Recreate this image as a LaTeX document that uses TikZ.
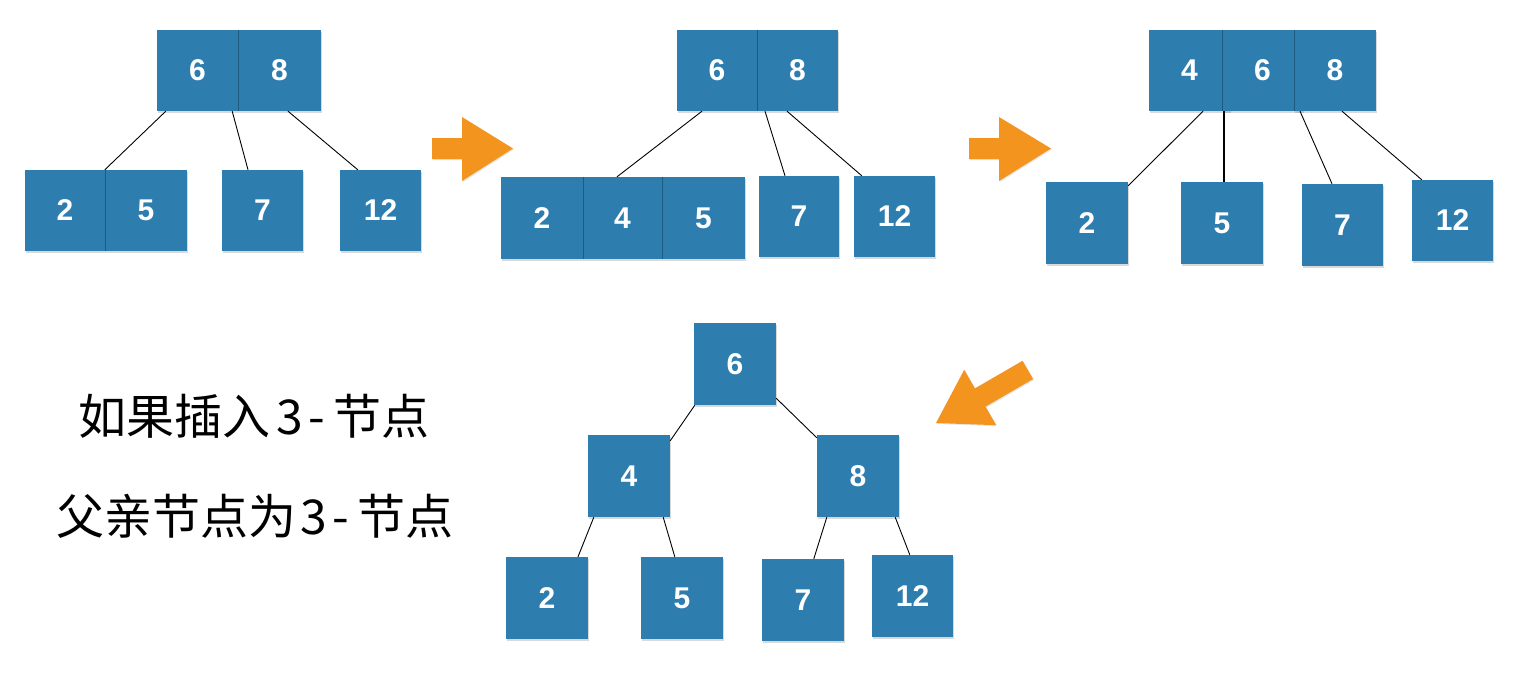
\documentclass[tikz,border=0pt]{standalone}
\usepackage{fontspec}
\newfontfamily\numfont{Liberation Sans}
\newfontfamily\cjkfont{Noto Sans CJK SC}
\usetikzlibrary{shadows}
\definecolor{kblue}{RGB}{46,125,175}
\definecolor{kdiv}{RGB}{30,90,130}
\definecolor{korange}{RGB}{243,148,30}
\tikzset{
  keybox/.style={fill=kblue, minimum width=81pt, minimum height=81pt, inner sep=0pt,
    text=white, font=\numfont\bfseries\fontsize{30}{30}\selectfont,
    drop shadow={shadow xshift=1pt, shadow yshift=-1.5pt, opacity=0.3}},
  divider/.style={draw=kdiv, line width=0.6pt},
  edge/.style={draw=black, line width=0.9pt},
  bigarrow/.style={fill=korange, drop shadow={shadow xshift=1pt, shadow yshift=-1pt, opacity=0.2}},
  caption/.style={font=\cjkfont\fontsize{48}{48}\selectfont, inner sep=0pt}
}
\begin{document}
\begin{tikzpicture}[x=1pt,y=-1pt]
\useasboundingbox (0,0) rectangle (1517,672);

% ---------- tree 1 ----------
\node[keybox] (r1a) at (197.5,70.5) {6};
\node[keybox, minimum width=83pt] (r1b) at (279.5,70.5) {8};
\draw[divider] (r1a.north east) -- (r1a.south east);
\node[keybox, minimum width=80pt] (l1a) at (65,210.5) {2};
\node[keybox, minimum width=82pt] (l1b) at (146,210.5) {5};
\draw[divider] (l1a.north east) -- (l1a.south east);
\node[keybox] (l1c) at (262.5,210.5) {7};
\node[keybox] (l1d) at (380.5,210.5) {12};
\draw[edge] ([xshift=9pt]r1a.south west) -- (l1b.north west);
\draw[edge] ([xshift=-6pt]r1a.south east) -- ([xshift=-14.5pt]l1c.north);
\draw[edge] ([xshift=8.5pt]r1b.south) -- ([xshift=18pt]l1d.north west);

% ---------- arrow 1 ----------
\fill[bigarrow] (432,138) -- (462,138) -- (462,117) -- (513,148.5) -- (462,181) -- (462,159) -- (432,159) -- cycle;

% ---------- tree 2 ----------
\node[keybox, minimum width=80pt] (r2a) at (717,70.5) {6};
\node[keybox] (r2b) at (797.5,70.5) {8};
\draw[divider] (r2a.north east) -- (r2a.south east);
\node[keybox, minimum width=82pt, minimum height=82pt] (l2a) at (542,218) {2};
\node[keybox, minimum width=79pt, minimum height=82pt] (l2b) at (622.5,218) {4};
\node[keybox, minimum width=83pt, minimum height=82pt] (l2c) at (703.5,218) {5};
\draw[divider] (l2a.north east) -- (l2a.south east);
\draw[divider] (l2b.north east) -- (l2b.south east);
\node[keybox, minimum width=80pt] (l2d) at (799,216.5) {7};
\node[keybox] (l2e) at (894.5,216.5) {12};
\draw[edge] ([xshift=-15pt]r2a.south) -- ([xshift=-5.5pt]l2b.north);
\draw[edge] ([xshift=-32.5pt]r2b.south) -- ([xshift=-14pt]l2d.north);
\draw[edge] ([xshift=-10.5pt]r2b.south) -- ([xshift=8pt]l2e.north west);

% ---------- arrow 2 ----------
\fill[bigarrow] (969,138) -- (999,138) -- (999,117) -- (1051,148.5) -- (999,181) -- (999,159) -- (969,159) -- cycle;

% ---------- tree 3 ----------
\node[keybox] (r3a) at (1189.5,70.5) {4};
\node[keybox] (r3b) at (1262.5,70.5) {6};
\node[keybox, minimum width=82pt] (r3c) at (1335,70.5) {8};
\draw[divider] (r3b.north west) -- (r3b.south west);
\draw[divider] (r3c.north west) -- (r3c.south west);
\node[keybox, minimum width=82pt, minimum height=82pt] (l3a) at (1087,223) {2};
\node[keybox, minimum width=82pt, minimum height=82pt] (l3b) at (1222,223) {5};
\node[keybox, minimum height=82pt] (l3c) at (1342.5,225) {7};
\node[keybox] (l3d) at (1452.5,220.5) {12};
\draw[edge] ([xshift=13.5pt]r3a.south) -- ([yshift=-4pt]l3a.north east);
\draw[edge, line width=1.8pt] ([xshift=-38.5pt]r3b.south) -- ([xshift=2pt]l3b.north);
\draw[edge] ([xshift=-35pt]r3c.south) -- ([xshift=-10.5pt]l3c.north);
\draw[edge] ([xshift=7pt]r3c.south) -- ([xshift=10pt]l3d.north west);

% ---------- arrow 3 ----------
\fill[bigarrow] (936,423) -- (996.2,425.2) -- (985.5,406.6) -- (1033.1,379.0) -- (1022.5,360.8) -- (974.9,388.4) -- (964.2,369.8) -- cycle;

% ---------- tree 4 ----------
\node[keybox, minimum width=82pt, minimum height=82pt] (t6) at (735,364) {6};
\node[keybox, minimum width=82pt, minimum height=82pt] (t4) at (629,476) {4};
\node[keybox, minimum width=82pt, minimum height=82pt] (t8) at (858,476) {8};
\node[keybox, minimum width=82pt, minimum height=82pt] (t2) at (547,598) {2};
\node[keybox, minimum width=82pt, minimum height=82pt] (t5) at (682,598) {5};
\node[keybox, minimum width=82pt, minimum height=82pt] (t7) at (803,600) {7};
\node[keybox, minimum height=82pt] (t12) at (912.5,596) {12};
\draw[edge] ([xshift=1pt]t6.south west) -- ([yshift=-6pt]t4.north east);
\draw[edge] ([yshift=7pt]t6.south east) -- ([yshift=-3pt]t8.north west);
\draw[edge] ([xshift=6pt]t4.south west) -- ([xshift=31pt]t2.north);
\draw[edge] ([xshift=-7pt]t4.south east) -- ([xshift=34pt]t5.north west);
\draw[edge] ([xshift=10pt]t8.south west) -- ([xshift=52pt]t7.north west);
\draw[edge] ([xshift=-4pt]t8.south east) -- ([xshift=38pt]t12.north west);

% ---------- captions ----------
\node[caption] (c1) at (254,416) {如果插入\kern6pt 3\kern5pt-\kern8pt 节点};
\node[caption] (c2) at (255,516) {父亲节点为\kern4pt 3\kern5pt-\kern8pt 节点};
\end{tikzpicture}
\end{document}
